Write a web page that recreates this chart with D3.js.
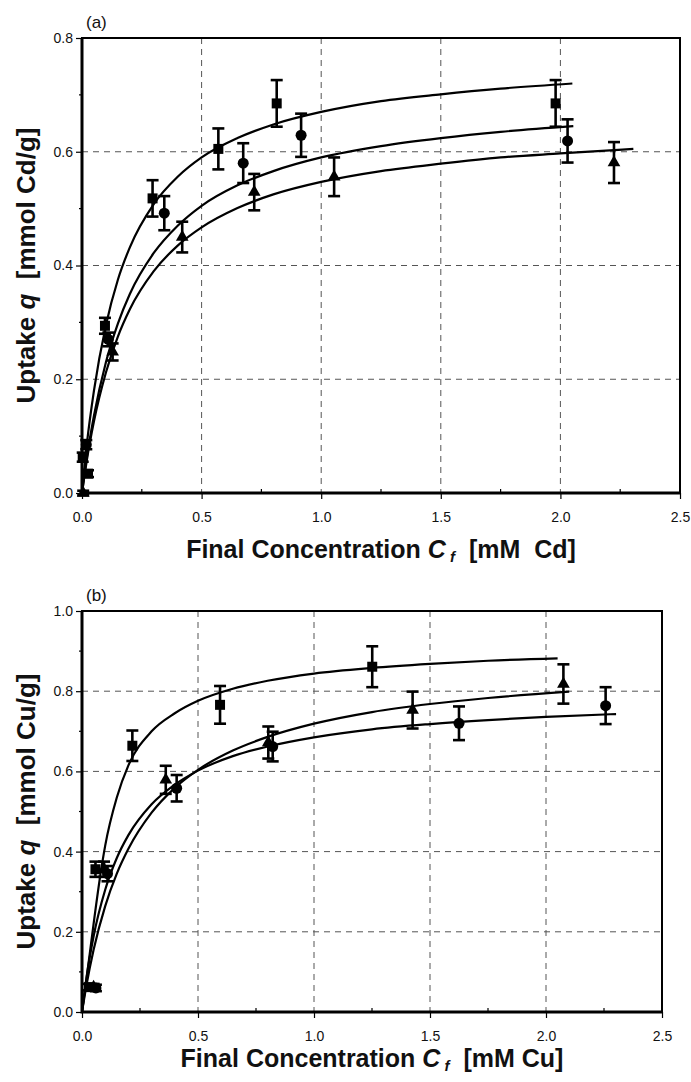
<!DOCTYPE html>
<html>
<head>
<meta charset="utf-8">
<script src="https://cdn.jsdelivr.net/npm/d3@7"></script>
<style>
  body { margin: 0; background: #fff; }
  svg { display: block; font-family: "Liberation Sans", Arial, sans-serif; }
  .tick-label { font-size: 14px; fill: #111; }
  .axis-title { font-weight: bold; font-size: 25px; fill: #111; white-space: pre; }
  .grid line { stroke: #555; stroke-width: 1; stroke-dasharray: 6 5; }
  .fit { fill: none; stroke: #000; stroke-width: 2.2; }
  .errbar { stroke: #000; stroke-width: 2.6; }
</style>
</head>
<body>
<div class="svg-container"></div>
<script>
// ---- panel (a): Cd uptake ----
var cdSquareX = [0.003, 0.025, 0.096, 0.295, 0.570, 0.814, 1.980];
var cdSquareQ = [0.063, 0.034, 0.294, 0.518, 0.605, 0.685, 0.685];
var cdSquareErr = [0.008, 0.006, 0.014, 0.032, 0.036, 0.041, 0.041];

var cdCircleX = [0.018, 0.110, 0.344, 0.674, 0.916, 2.030];
var cdCircleQ = [0.085, 0.270, 0.492, 0.580, 0.629, 0.619];
var cdCircleErr = [0.008, 0.012, 0.030, 0.035, 0.038, 0.038];

var cdTriangleX = [0.005, 0.128, 0.419, 0.720, 1.054, 2.224];
var cdTriangleQ = [0.000, 0.248, 0.450, 0.529, 0.556, 0.581];
var cdTriangleErr = [0.004, 0.015, 0.027, 0.032, 0.034, 0.036];

// fitted curves
var cdFitSquare = [[0,0],[0.02,0.085],[0.05,0.180],[0.1,0.295],[0.15,0.375],[0.2,0.432],[0.3,0.508],[0.4,0.556],[0.5,0.590],[0.65,0.624],[0.8,0.648],[1.0,0.670],[1.25,0.689],[1.5,0.701],[1.75,0.711],[2.05,0.720]];
var cdFitCircle = [[0,0],[0.02,0.062],[0.05,0.136],[0.1,0.230],[0.15,0.298],[0.2,0.350],[0.3,0.422],[0.4,0.470],[0.5,0.505],[0.65,0.541],[0.8,0.566],[1.0,0.590],[1.25,0.610],[1.5,0.624],[1.75,0.635],[2.054,0.645]];
var cdFitTriangle = [[0,0],[0.02,0.057],[0.05,0.126],[0.1,0.212],[0.15,0.275],[0.2,0.323],[0.3,0.390],[0.4,0.435],[0.5,0.467],[0.65,0.501],[0.8,0.525],[1.0,0.547],[1.25,0.566],[1.5,0.579],[1.75,0.590],[2.0,0.597],[2.305,0.605]];

// ---- panel (b): Cu uptake ----
var cuSquareX = [0.030, 0.058, 0.217, 0.595, 1.251];
var cuSquareQ = [0.062, 0.356, 0.664, 0.766, 0.861];
var cuSquareErr = [0.008, 0.019, 0.038, 0.047, 0.051];

var cuTriangleX = [0.050, 0.095, 0.361, 0.803, 1.425, 2.075];
var cuTriangleQ = [0.062, 0.356, 0.579, 0.672, 0.753, 0.818];
var cuTriangleErr = [0.008, 0.019, 0.035, 0.040, 0.046, 0.049];

var cuCircleX = [0.060, 0.110, 0.408, 0.822, 1.625, 2.257];
var cuCircleQ = [0.060, 0.345, 0.558, 0.662, 0.720, 0.764];
var cuCircleErr = [0.008, 0.019, 0.033, 0.037, 0.042, 0.046];

var cuFitSquare = [[0,0],[0.02,0.085],[0.05,0.220],[0.08,0.345],[0.1,0.415],[0.15,0.535],[0.2,0.615],[0.3,0.700],[0.4,0.745],[0.5,0.776],[0.65,0.806],[0.8,0.826],[1.0,0.844],[1.25,0.858],[1.5,0.868],[1.75,0.876],[2.05,0.882]];
var cuFitTriangle = [[0,0],[0.02,0.069],[0.05,0.155],[0.1,0.264],[0.15,0.345],[0.2,0.407],[0.3,0.497],[0.4,0.559],[0.5,0.604],[0.65,0.652],[0.8,0.686],[1.0,0.719],[1.25,0.748],[1.5,0.768],[1.75,0.783],[2.1,0.799]];
var cuFitCircle = [[0,0],[0.02,0.088],[0.05,0.189],[0.1,0.305],[0.15,0.384],[0.2,0.441],[0.3,0.518],[0.4,0.567],[0.5,0.602],[0.65,0.638],[0.8,0.662],[1.0,0.685],[1.25,0.705],[1.5,0.718],[1.75,0.728],[2.0,0.736],[2.302,0.743]];

var xTicks = [0, 0.5, 1.0, 1.5, 2.0, 2.5];
var xMinorTicks = [0.25, 0.75, 1.25, 1.75, 2.25];

var width = 691, height = 1082;

var svg = d3.select(".svg-container").append("svg")
  .attr("width", width)
  .attr("height", height);

svg.append("rect").attr("width", width).attr("height", height).attr("fill", "#fff");

function zipPoints(xs, qs, errs) {
  return xs.map(function(x, i) { return {x: x, q: qs[i], err: errs[i]}; });
}

function drawPanel(p) {
  var x = d3.scaleLinear().domain([0, 2.5]).range([p.left, p.right]);
  var y = d3.scaleLinear().domain([0, p.yMax]).range([p.bottom, p.top]);
  var g = svg.append("g");

  // dashed grid
  var grid = g.append("g").attr("class", "grid");
  grid.selectAll("line.gx")
    .data(xTicks.filter(function(t) { return t > 0 && t < 2.5; }))
    .enter().append("line")
    .attr("x1", function(d) { return x(d); }).attr("x2", function(d) { return x(d); })
    .attr("y1", p.top).attr("y2", p.bottom);
  grid.selectAll("line.gy")
    .data(p.yTicks.filter(function(t) { return t > 0 && t < p.yMax; }))
    .enter().append("line")
    .attr("x1", p.left).attr("x2", p.right)
    .attr("y1", function(d) { return y(d); }).attr("y2", function(d) { return y(d); });

  // axes with d3 axis generators, then restyle
  var xAxis = g.append("g")
    .attr("transform", "translate(0," + p.bottom + ")")
    .call(d3.axisBottom(x).tickValues(xTicks).tickSize(6).tickFormat(d3.format(".1f")));
  var yAxis = g.append("g")
    .attr("transform", "translate(" + p.left + ",0)")
    .call(d3.axisLeft(y).tickValues(p.yTicks).tickSize(6).tickFormat(d3.format(".1f")));
  [xAxis, yAxis].forEach(function(ax) {
    ax.select(".domain").remove();
    ax.selectAll(".tick line").attr("stroke", "#000").attr("stroke-width", 1.2);
    ax.selectAll(".tick text").attr("class", "tick-label")
      .style("font-family", "Liberation Sans, Arial, sans-serif")
      .style("font-size", "14px").attr("fill", "#111");
  });
  xAxis.selectAll(".tick text").attr("y", 19);
  yAxis.selectAll(".tick text").attr("x", -9);

  // minor ticks: x inside, y outside
  g.selectAll("line.xminor").data(xMinorTicks).enter().append("line")
    .attr("x1", function(d) { return x(d); }).attr("x2", function(d) { return x(d); })
    .attr("y1", p.bottom).attr("y2", p.bottom - 4)
    .attr("stroke", "#000").attr("stroke-width", 1.2);
  g.selectAll("line.yminor").data(p.yMinorTicks).enter().append("line")
    .attr("x1", p.left - 3).attr("x2", p.left)
    .attr("y1", function(d) { return y(d); }).attr("y2", function(d) { return y(d); })
    .attr("stroke", "#000").attr("stroke-width", 1.2);

  // frame
  g.append("rect")
    .attr("x", p.left).attr("y", p.top)
    .attr("width", p.right - p.left).attr("height", p.bottom - p.top)
    .attr("fill", "none").attr("stroke", "#000").attr("stroke-width", 2);
  g.append("path")
    .attr("d", "M" + p.left + "," + p.top + "V" + p.bottom + "H" + p.right)
    .attr("fill", "none").attr("stroke", "#000").attr("stroke-width", 3);

  // fitted curves
  var line = d3.line()
    .x(function(d) { return x(d[0]); })
    .y(function(d) { return y(d[1]); })
    .curve(d3.curveMonotoneX);
  p.fits.forEach(function(f) {
    g.append("path").attr("class", "fit").attr("d", line(f));
  });

  // data series with error bars
  p.series.forEach(function(s) {
    var sg = g.append("g");
    var pts = sg.selectAll("g.pt").data(s.points).enter().append("g")
      .attr("transform", function(d) { return "translate(" + x(d.x) + "," + y(d.q) + ")"; });
    pts.append("line").attr("class", "errbar")
      .attr("x1", 0).attr("x2", 0)
      .attr("y1", function(d) { return y(d.q + d.err) - y(d.q); })
      .attr("y2", function(d) { return y(d.q - d.err) - y(d.q); });
    pts.append("line").attr("class", "errbar")
      .attr("x1", -6).attr("x2", 6)
      .attr("y1", function(d) { return y(d.q + d.err) - y(d.q); })
      .attr("y2", function(d) { return y(d.q + d.err) - y(d.q); });
    pts.append("line").attr("class", "errbar")
      .attr("x1", -6).attr("x2", 6)
      .attr("y1", function(d) { return y(d.q - d.err) - y(d.q); })
      .attr("y2", function(d) { return y(d.q - d.err) - y(d.q); });
    pts.append("path")
      .attr("d", d3.symbol().type(s.symbol).size(s.size))
      .attr("fill", "#000");
  });

  // panel label
  svg.append("text")
    .attr("x", p.left + 4).attr("y", p.top - 10)
    .style("font-size", "17px").attr("fill", "#111")
    .text(p.label);

  // x title
  var xt = svg.append("text").attr("class", "axis-title")
    .attr("x", (p.left + p.right) / 2).attr("y", p.xTitleY)
    .attr("text-anchor", "middle");
  xt.append("tspan").text("Final Concentration ");
  xt.append("tspan").style("font-style", "italic").text("C");
  xt.append("tspan").style("font-style", "italic").style("font-size", "15px").attr("dy", 4).text(" f");
  xt.append("tspan").attr("dy", -4).text("  " + p.unitX);

  // y title
  var cy = (p.top + p.bottom) / 2;
  var yt = svg.append("text").attr("class", "axis-title")
    .attr("transform", "translate(35," + cy + ") rotate(-90)")
    .attr("text-anchor", "middle")
    .style("font-size", "26px");
  yt.append("tspan").text("Uptake ");
  yt.append("tspan").style("font-style", "italic").text("q");
  yt.append("tspan").text("  " + p.unitY);
}

drawPanel({
  left: 82, right: 680, top: 38, bottom: 493,
  yMax: 0.8,
  yTicks: [0, 0.2, 0.4, 0.6, 0.8],
  yMinorTicks: [0.1, 0.3, 0.5, 0.7],
  label: "(a)",
  xTitleY: 558,
  unitX: "[mM  Cd]",
  unitY: "[mmol Cd/g]",
  fits: [cdFitSquare, cdFitCircle, cdFitTriangle],
  series: [
    {points: zipPoints(cdSquareX, cdSquareQ, cdSquareErr), symbol: d3.symbolSquare, size: 100},
    {points: zipPoints(cdCircleX, cdCircleQ, cdCircleErr), symbol: d3.symbolCircle, size: 95},
    {points: zipPoints(cdTriangleX, cdTriangleQ, cdTriangleErr), symbol: d3.symbolTriangle, size: 70}
  ]
});

drawPanel({
  left: 82, right: 662, top: 611, bottom: 1012,
  yMax: 1.0,
  yTicks: [0, 0.2, 0.4, 0.6, 0.8, 1.0],
  yMinorTicks: [0.1, 0.3, 0.5, 0.7, 0.9],
  label: "(b)",
  xTitleY: 1067,
  unitX: "[mM Cu]",
  unitY: "[mmol Cu/g]",
  fits: [cuFitSquare, cuFitTriangle, cuFitCircle],
  series: [
    {points: zipPoints(cuSquareX, cuSquareQ, cuSquareErr), symbol: d3.symbolSquare, size: 100},
    {points: zipPoints(cuTriangleX, cuTriangleQ, cuTriangleErr), symbol: d3.symbolTriangle, size: 70},
    {points: zipPoints(cuCircleX, cuCircleQ, cuCircleErr), symbol: d3.symbolCircle, size: 95}
  ]
});
</script>
</body>
</html>
